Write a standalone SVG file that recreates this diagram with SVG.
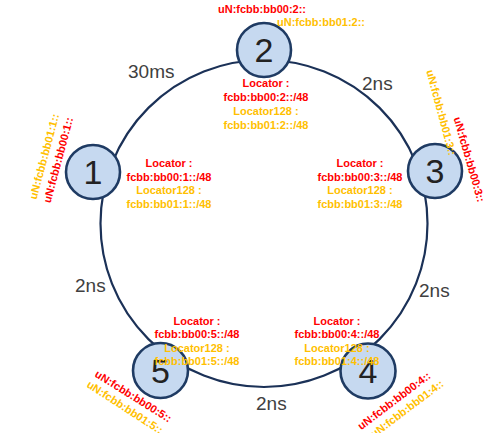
<svg xmlns="http://www.w3.org/2000/svg" width="487" height="433" viewBox="0 0 487 433">
<style>
.ring{fill:none;stroke:#1b3157;stroke-width:2.2}
.node{fill:#c6d9f0;stroke:#1f3b63;stroke-width:2.6}
.num{font-family:"Liberation Sans",Arial,sans-serif;font-size:34px;fill:#222;text-anchor:middle}
.delay{font-family:"Liberation Sans",Arial,sans-serif;font-size:19px;fill:#404040}
.r{font-family:"Liberation Sans",Arial,sans-serif;font-size:11px;font-weight:bold;fill:#ff0000}
.y{font-family:"Liberation Sans",Arial,sans-serif;font-size:11px;font-weight:bold;fill:#ffc000}
.c{text-anchor:middle}
.m{text-anchor:middle;dominant-baseline:central}
</style>
<rect width="487" height="433" fill="#ffffff"/>
<g id="connectors">
<circle class="ring" cx="264" cy="223.5" r="163.5"/>
</g>
<g id="delays">
<text class="delay" x="128" y="78">30ms</text>
<text class="delay" x="362" y="90">2ns</text>
<text class="delay" x="75" y="292">2ns</text>
<text class="delay" x="419" y="297">2ns</text>
<text class="delay" x="256" y="410">2ns</text>
</g>
<g id="node1">
<circle class="node" cx="93" cy="172" r="27"/>
<text class="num" x="93" y="184">1</text>
<text class="y m" transform="translate(44,156.5) rotate(-75)">uN:fcbb:bb01:1::</text>
<text class="r m" transform="translate(58,160) rotate(-75)">uN:fcbb:bb00:1::</text>
</g>
<g id="node2">
<circle class="node" cx="264" cy="50" r="27"/>
<text class="num" x="264" y="62">2</text>
<text class="r c" x="262" y="13">uN:fcbb:bb00:2::</text>
<text class="y" x="277" y="26">uN:fcbb:bb01:2::</text>
</g>
<g id="node3">
<circle class="node" cx="435" cy="171" r="27"/>
<text class="num" x="435" y="183">3</text>
<text class="y m" transform="translate(441.5,112.5) rotate(75)">uN:fcbb:bb01:3::</text>
<text class="r m" transform="translate(469.5,159.5) rotate(74)">uN:fcbb:bb00:3::</text>
</g>
<g id="node4">
<circle class="node" cx="368" cy="371" r="27.5"/>
<text class="num" x="368" y="383">4</text>
<text class="r m" transform="translate(394,400.5) rotate(-37)">uN:fcbb:bb00:4::</text>
<text class="y m" transform="translate(407,408.5) rotate(-37)">uN:fcbb:bb01:4::</text>
</g>
<g id="node5">
<circle class="node" cx="160.5" cy="370.5" r="27.5"/>
<text class="num" x="160.5" y="382.5">5</text>
<text class="r m" transform="translate(133.5,396) rotate(32)">uN:fcbb:bb00:5::</text>
<text class="y m" transform="translate(125,407) rotate(33)">uN:fcbb:bb01:5::</text>
</g>
<g id="locators">
<text class="r c" x="169" y="167">Locator :</text>
<text class="r c" x="169" y="181">fcbb:bb00:1::/48</text>
<text class="y c" x="169" y="194">Locator128 :</text>
<text class="y c" x="169" y="208">fcbb:bb01:1::/48</text>

<text class="r c" x="266" y="87">Locator :</text>
<text class="r c" x="266" y="101">fcbb:bb00:2::/48</text>
<text class="y c" x="266" y="115">Locator128 :</text>
<text class="y c" x="266" y="129">fcbb:bb01:2::/48</text>

<text class="r c" x="360" y="167">Locator :</text>
<text class="r c" x="360" y="181">fcbb:bb00:3::/48</text>
<text class="y c" x="360" y="194">Locator128 :</text>
<text class="y c" x="360" y="208">fcbb:bb01:3::/48</text>

<text class="r c" x="337" y="325">Locator :</text>
<text class="r c" x="337" y="338">fcbb:bb00:4::/48</text>
<text class="y c" x="337" y="352">Locator128 :</text>
<text class="y c" x="337" y="365">fcbb:bb01:4::/48</text>

<text class="r c" x="197" y="325">Locator :</text>
<text class="r c" x="197" y="338">fcbb:bb00:5::/48</text>
<text class="y c" x="197" y="352">Locator128 :</text>
<text class="y c" x="197" y="365">fcbb:bb01:5::/48</text>
</g>
</svg>
